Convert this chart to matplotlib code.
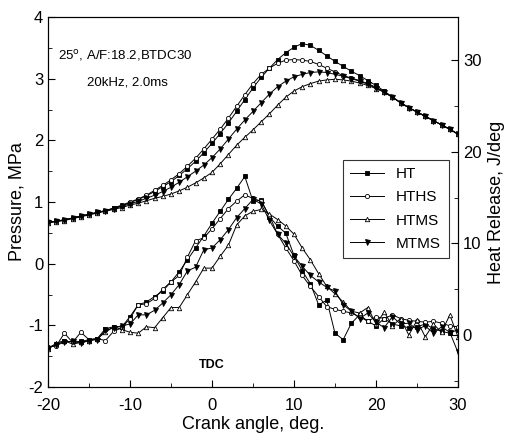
import numpy as np
import matplotlib
matplotlib.use('Agg')
import matplotlib.pyplot as plt
from matplotlib.ticker import MultipleLocator

plt.rcParams['font.family'] = ['Liberation Sans', 'DejaVu Sans']
plt.rcParams['axes.unicode_minus'] = False

# crank angle, deg
crank = list(range(-20, 31))

# cylinder pressure, MPa
p_ht = [0.67, 0.69, 0.71, 0.74, 0.77, 0.80, 0.83, 0.86, 0.90, 0.94,
        0.99, 1.04, 1.10, 1.17, 1.25, 1.33, 1.43, 1.54, 1.66, 1.80,
        1.95, 2.11, 2.28, 2.47, 2.66, 2.85, 3.02, 3.17, 3.31, 3.42,
        3.51, 3.57, 3.54, 3.46, 3.37, 3.28, 3.20, 3.12, 3.05, 2.97,
        2.89, 2.80, 2.70, 2.61, 2.53, 2.46, 2.39, 2.32, 2.25, 2.18, 2.10]
p_hths = [0.67, 0.69, 0.71, 0.74, 0.77, 0.80, 0.83, 0.86, 0.90, 0.95,
          1.00, 1.05, 1.11, 1.19, 1.27, 1.36, 1.46, 1.58, 1.71, 1.86,
          2.02, 2.18, 2.36, 2.55, 2.74, 2.92, 3.07, 3.17, 3.25, 3.30,
          3.31, 3.30, 3.28, 3.23, 3.17, 3.11, 3.05, 3.01, 2.97, 2.92,
          2.86, 2.79, 2.70, 2.61, 2.53, 2.46, 2.39, 2.32, 2.25, 2.18, 2.10]
p_htms = [0.66, 0.68, 0.70, 0.73, 0.76, 0.79, 0.82, 0.85, 0.88, 0.91,
          0.95, 0.98, 1.02, 1.06, 1.09, 1.13, 1.18, 1.24, 1.31, 1.39,
          1.48, 1.62, 1.77, 1.92, 2.05, 2.17, 2.30, 2.43, 2.57, 2.70,
          2.80, 2.87, 2.92, 2.96, 2.98, 2.99, 2.98, 2.96, 2.93, 2.89,
          2.84, 2.78, 2.70, 2.61, 2.53, 2.46, 2.39, 2.32, 2.25, 2.18, 2.10]
p_mtms = [0.67, 0.69, 0.71, 0.74, 0.77, 0.80, 0.83, 0.86, 0.89, 0.93,
          0.97, 1.01, 1.06, 1.11, 1.17, 1.24, 1.32, 1.41, 1.50, 1.60,
          1.72, 1.86, 2.02, 2.18, 2.33, 2.47, 2.61, 2.75, 2.87, 2.96,
          3.03, 3.07, 3.10, 3.11, 3.10, 3.07, 3.04, 3.00, 2.96, 2.91,
          2.85, 2.78, 2.70, 2.61, 2.53, 2.46, 2.39, 2.32, 2.25, 2.18, 2.10]

# heat release, J/deg
hr_ht = [-1.4, -1.0, -0.7, -0.7, -0.7, -0.5, -0.4, 0.7, 0.9, 0.9,
         2.0, 3.3, 3.6, 4.2, 4.8, 5.8, 6.9, 8.2, 9.5, 10.8,
         12.2, 13.5, 14.8, 16.0, 17.3, 14.6, 14.7, 12.9, 11.9, 11.1,
         8.7, 7.0, 5.6, 3.3, 3.8, 0.2, -0.5, 1.3, 2.2, 1.5,
         1.0, 1.8, 1.2, 1.0, 0.8, 0.9, 1.2, 0.7, 0.4, 0.2, 0.6]
hr_hths = [-1.3, -1.2, 0.2, -0.8, 0.3, -0.5, -0.4, -0.6, 0.4, 0.8,
           1.8, 3.3, 3.4, 4.0, 5.0, 5.8, 6.5, 8.5, 10.3, 10.6,
           11.6, 12.7, 13.8, 14.6, 15.3, 14.9, 14.6, 13.0, 11.0, 9.5,
           8.1, 6.5, 5.3, 4.2, 3.1, 2.8, 2.6, 2.4, 2.0, 1.5,
           2.0, 1.8, 2.2, 1.8, 1.6, 1.5, 1.4, 1.5, 1.3, 1.0, 0.9]
hr_htms = [-1.5, -0.9, -0.6, -1.0, -0.8, -0.6, -0.4, 0.3, 0.9, 0.6,
           0.3, 0.2, 0.9, 0.8, 1.9, 3.0, 3.0, 4.4, 5.8, 7.3,
           7.3, 8.6, 9.8, 12.0, 13.0, 13.5, 13.7, 13.2, 12.6, 11.9,
           11.0, 9.5, 8.2, 6.7, 5.3, 4.5, 3.6, 2.6, 2.4, 3.0,
           1.2, 2.5, 1.0, 1.8, 0.0, 1.6, -0.2, 1.2, 0.3, 2.2, -0.2]
hr_mtms = [-1.4, -1.1, -0.8, -0.7, -0.9, -0.6, -0.5, 0.5, 0.8, 1.0,
           1.2, 2.2, 2.2, 2.7, 3.5, 4.4, 5.5, 7.0, 7.4, 9.3,
           9.5, 10.4, 11.5, 12.8, 13.8, 14.8, 14.3, 12.5, 11.0, 10.0,
           8.6, 7.5, 6.5, 5.8, 5.2, 4.8, 3.3, 2.6, 1.8, 2.4,
           1.4, 0.8, 2.0, 1.2, 1.3, 0.6, 1.0, 0.2, 0.9, 0.3, -1.9]

labels = ['HT', 'HTHS', 'HTMS', 'MTMS']
markers = ['s', 'o', '^', 'v']
fills = ['black', 'white', 'white', 'black']
msizes = [2.6, 3.0, 3.2, 3.6]

fig = plt.figure(figsize=(5.09, 4.43), dpi=100)
ax = fig.add_axes([48 / 509, 1 - 387 / 443, 410 / 509, 370 / 443])
ax2 = ax.twinx()

pressures = [p_ht, p_hths, p_htms, p_mtms]
heats = [hr_ht, hr_hths, hr_htms, hr_mtms]
handles = []
for p, h, lab, m, fc, ms in zip(pressures, heats, labels, markers, fills, msizes):
    ax.plot(crank, p, color='black', lw=0.7, marker=m, ms=ms,
            mfc=fc, mec='black', mew=0.6)
    ln, = ax2.plot(crank, h, color='black', lw=0.7, marker=m, ms=ms,
                   mfc=fc, mec='black', mew=0.6, label=lab)
    handles.append(ln)

ax.set_xlim(-20, 30)
ax.set_ylim(-2, 4)
ax2.set_ylim(-5.67, 34.7)

ax.xaxis.set_major_locator(MultipleLocator(10))
ax.xaxis.set_minor_locator(MultipleLocator(5))
ax.yaxis.set_major_locator(MultipleLocator(1))
ax.yaxis.set_minor_locator(MultipleLocator(0.5))
ax2.yaxis.set_major_locator(MultipleLocator(10))
ax2.yaxis.set_minor_locator(MultipleLocator(5))

ax.tick_params(axis='both', which='major', direction='in', length=5,
               labelsize=12, top=False)
ax.tick_params(axis='x', which='major', pad=8)
ax.tick_params(axis='both', which='minor', direction='in', length=3, top=False)
ax2.tick_params(axis='y', which='major', direction='in', length=5, labelsize=12)
ax2.tick_params(axis='y', which='minor', direction='in', length=3)

ax.set_xlabel('Crank angle, deg.', fontsize=13, labelpad=2)
ax.set_ylabel('Pressure, MPa', fontsize=13, labelpad=2)
ax2.set_ylabel('Heat Release, J/deg', fontsize=13, labelpad=5)

ax.text(0.024, 0.897, '25$^{\\mathrm{o}}$, A/F:18.2,BTDC30', transform=ax.transAxes,
        fontsize=9.5, va='center', ha='left')
ax.text(0.095, 0.824, '20kHz, 2.0ms', transform=ax.transAxes,
        fontsize=9.5, va='center', ha='left')
ax.text(0, -1.65, 'TDC', fontsize=9, fontweight='bold', ha='center', va='center')

leg = ax2.legend(handles=handles, loc='upper left', bbox_to_anchor=(0.70, 0.635),
                 fontsize=11, frameon=True, fancybox=False, edgecolor='black',
                 handlelength=2.2, labelspacing=0.6, borderpad=0.5)
leg.get_frame().set_linewidth(0.8)

plt.savefig('out.png', dpi=100)
